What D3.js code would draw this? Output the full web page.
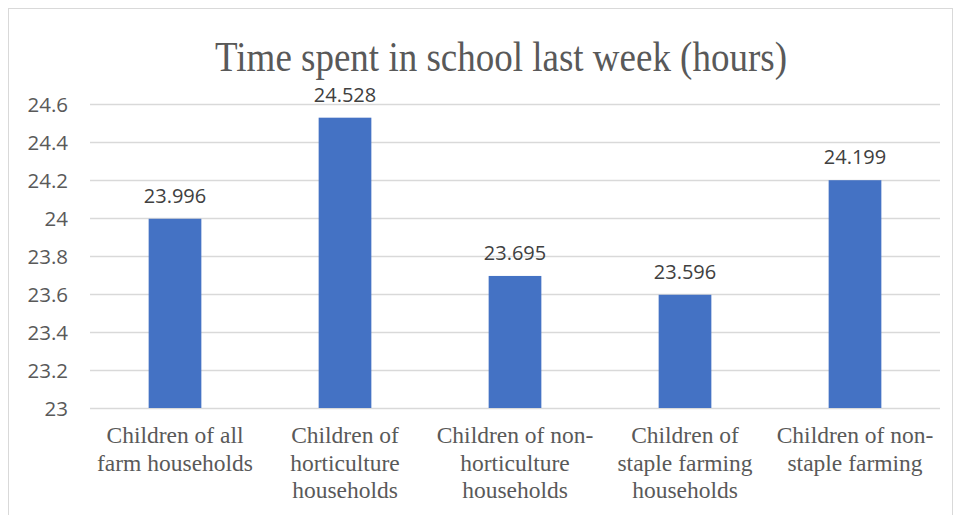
<!DOCTYPE html>
<html>
<head>
<meta charset="utf-8">
<script src="https://cdn.jsdelivr.net/npm/d3@7"></script>
<style>
  html, body { margin: 0; padding: 0; background: #fff; }
  svg { display: block; }
</style>
</head>
<body>
<svg id="chart" width="956" height="515"></svg>
<script>
// Average hours spent in school last week, by household group
const categories = [
  ["Children of all", "farm households"],
  ["Children of", "horticulture", "households"],
  ["Children of non-", "horticulture", "households"],
  ["Children of", "staple farming", "households"],
  ["Children of non-", "staple farming"]
];
const hours = [23.996, 24.528, 23.695, 23.596, 24.199];
const yTicks = [23, 23.2, 23.4, 23.6, 23.8, 24, 24.2, 24.4, 24.6];
const title = "Time spent in school last week (hours)";

const svg = d3.select("#chart");
const W = 956, H = 515;
const plot = { left: 90, right: 940, top: 104, bottom: 408 };

// chart frame
svg.append("rect")
  .attr("x", 8.5).attr("y", 8.5)
  .attr("width", W - 12).attr("height", H + 10)
  .attr("fill", "#fff").attr("stroke", "#d9d9d9").attr("stroke-width", 1);

const x = d3.scaleBand()
  .domain(d3.range(hours.length))
  .range([plot.left, plot.right])
  .paddingInner(0.69).paddingOuter(0.345);

const y = d3.scaleLinear()
  .domain([23, 24.6])
  .range([plot.bottom, plot.top]);

// horizontal gridlines
svg.append("g")
  .selectAll("line")
  .data(yTicks)
  .join("line")
  .attr("x1", plot.left).attr("x2", plot.right)
  .attr("y1", d => Math.round(y(d)) + 0.5)
  .attr("y2", d => Math.round(y(d)) + 0.5)
  .attr("stroke", "#d9d9d9").attr("stroke-width", 1.3);

// y axis labels
const yAxis = d3.axisLeft(y).tickValues(yTicks).tickSize(0).tickPadding(0)
  .tickFormat(d => String(+d.toFixed(1)));
const yG = svg.append("g")
  .attr("transform", `translate(${plot.left - 22},0)`)
  .call(yAxis);
yG.select(".domain").remove();
yG.selectAll("text")
  .attr("fill", "#595959")
  .attr("font-family", "'Open Sans', 'Liberation Sans', sans-serif")
  .attr("font-size", 20.5)
  .attr("dy", "0.36em");

// bars
svg.append("g")
  .selectAll("rect")
  .data(hours)
  .join("rect")
  .attr("x", (d, i) => x(i))
  .attr("width", x.bandwidth())
  .attr("y", d => y(d))
  .attr("height", d => y(23) - y(d))
  .attr("fill", "#4472c4");

// data labels
svg.append("g")
  .selectAll("text")
  .data(hours)
  .join("text")
  .attr("x", (d, i) => x(i) + x.bandwidth() / 2)
  .attr("y", d => y(d) - 16)
  .attr("text-anchor", "middle")
  .attr("fill", "#404040")
  .attr("font-family", "'Open Sans', 'Liberation Sans', sans-serif")
  .attr("font-size", 20)
  .text(d => d.toFixed(3));

// category labels
const cat = svg.append("g")
  .selectAll("text")
  .data(categories)
  .join("text")
  .attr("x", (d, i) => x(i) + x.bandwidth() / 2)
  .attr("y", 443)
  .attr("text-anchor", "middle")
  .attr("fill", "#595959")
  .attr("font-family", "'Liberation Serif', 'Times New Roman', serif")
  .attr("font-size", 23.5);
cat.selectAll("tspan")
  .data(d => d)
  .join("tspan")
  .attr("x", function () { return d3.select(this.parentNode).attr("x"); })
  .attr("dy", (d, i) => i === 0 ? 0 : 27.5)
  .text(d => d);

// title (tall serif face)
svg.append("text")
  .attr("transform", "translate(501,70.5) scale(1,1.15)")
  .attr("text-anchor", "middle")
  .attr("fill", "#595959")
  .attr("font-family", "'Liberation Serif', 'Times New Roman', serif")
  .attr("font-size", 37)
  .text(title);
</script>
</body>
</html>
